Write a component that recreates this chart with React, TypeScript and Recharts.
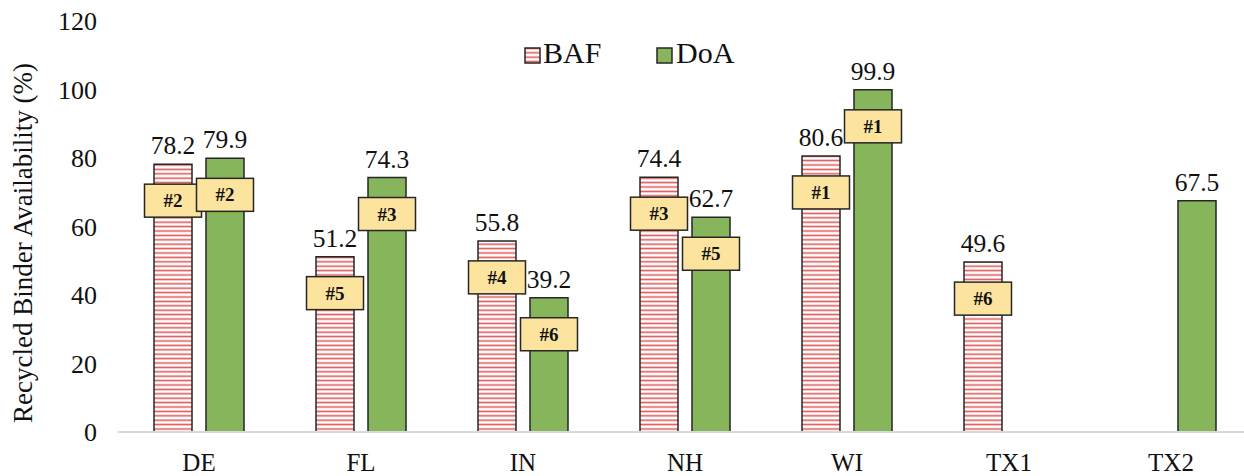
import React from 'react';
import { BarChart, Bar, XAxis, YAxis, Legend, LabelList } from 'recharts';

const categories = ['DE', 'FL', 'IN', 'NH', 'WI', 'TX1', 'TX2'];
const bafValues = [78.2, 51.2, 55.8, 74.4, 80.6, 49.6, null];
const doaValues = [79.9, 74.3, 39.2, 62.7, 99.9, null, 67.5];
const bafRanks = ['#2', '#5', '#4', '#3', '#1', '#6', null];
const doaRanks = ['#2', '#3', '#6', '#5', '#1', null, '#4'];
const yTicks = [0, 20, 40, 60, 80, 100, 120];

const data = categories.map((name, i) => ({
  name,
  BAF: bafValues[i],
  DoA: doaValues[i],
}));

const FONT = "'Liberation Serif', 'Times New Roman', serif";
const GREEN = '#87B55B';
const EDGE = '#262626';
const txt = { fontFamily: FONT, fill: '#111' };

const makeLabel = (ranks: (string | null)[]) => (props: any) => {
  const { x, y, width, value, index } = props;
  if (value == null) return null;
  const cx = x + width / 2;
  const rank = ranks[index];
  return (
    <g>
      <text x={cx} y={y - 10} textAnchor="middle" fontSize={25.5} style={txt}>
        {value.toFixed(1)}
      </text>
      {rank && (
        <g>
          <rect x={cx - 28.5} y={y + 20} width={57} height={33} fill="#FCE49F" stroke={EDGE} strokeWidth={1.5} />
          <text x={cx} y={y + 43} textAnchor="middle" fontSize={19} fontWeight="bold" style={txt}>
            {rank}
          </text>
        </g>
      )}
    </g>
  );
};

const XTick = (props: any) => {
  const { x, payload } = props;
  return (
    <text x={x} y={471} textAnchor="middle" fontSize={25} style={txt}>
      {payload.value}
    </text>
  );
};

const YTick = (props: any) => {
  const { y, payload } = props;
  return (
    <text x={97} y={y} dy="0.35em" textAnchor="end" fontSize={26} style={txt}>
      {payload.value}
    </text>
  );
};

const YLabel = () => (
  <text
    x={32}
    y={243}
    transform="rotate(-90 32 243)"
    textAnchor="middle"
    fontSize={27}
    style={txt}
  >
    Recycled Binder Availability (%)
  </text>
);

const renderLegend = () => (
  <svg width={240} height={40}>
    <rect x={5} y={15} width={15} height={15} fill="url(#bafStripes)" stroke={EDGE} strokeWidth={1.5} />
    <text x={23} y={30} fontSize={30} style={txt}>BAF</text>
    <rect x={137} y={15} width={15} height={15} fill={GREEN} stroke={EDGE} strokeWidth={1.5} />
    <text x={156} y={30} fontSize={30} style={txt}>DoA</text>
  </svg>
);

export default function App() {
  return (
    <div style={{ position: 'absolute', left: 0, top: 0, width: 1244, height: 476, overflow: 'hidden', background: '#fff' }}>
      <BarChart
        width={1260}
        height={476}
        data={data}
        margin={{ top: 21, right: 8, bottom: 0, left: 0 }}
        barSize={38}
        barGap={14}
      >
        <defs>
          <pattern id="bafStripes" patternUnits="userSpaceOnUse" width={8} height={4.4}>
            <rect width={8} height={4.4} fill="#fff" />
            <rect y={1.4} width={8} height={1.6} fill="#E05A5A" />
          </pattern>
        </defs>
        <XAxis
          dataKey="name"
          height={44}
          tickLine={false}
          axisLine={{ stroke: '#D9D9D9', strokeWidth: 2 }}
          tick={<XTick />}
          interval={0}
        />
        <YAxis
          width={118}
          domain={[0, 120]}
          ticks={yTicks}
          axisLine={false}
          tickLine={false}
          tick={<YTick />}
          label={<YLabel />}
        />
        <Legend
          layout="horizontal"
          verticalAlign="middle"
          align="center"
          content={renderLegend}
          wrapperStyle={{ top: 33, left: 520, width: 240 }}
        />
        <Bar dataKey="BAF" fill="url(#bafStripes)" stroke={EDGE} strokeWidth={1.5} isAnimationActive={false}>
          <LabelList dataKey="BAF" content={makeLabel(bafRanks)} />
        </Bar>
        <Bar dataKey="DoA" fill={GREEN} stroke={EDGE} strokeWidth={1.5} isAnimationActive={false}>
          <LabelList dataKey="DoA" content={makeLabel(doaRanks)} />
        </Bar>
      </BarChart>
    </div>
  );
}
